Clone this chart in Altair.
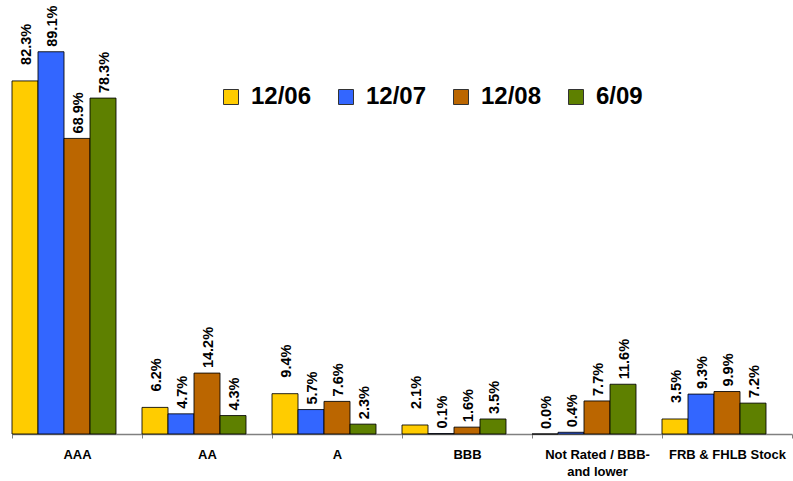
import altair as alt
import pandas as pd

# Share of holdings by credit rating, four reporting dates
categories = ["AAA", "AA", "A", "BBB", "Not Rated / BBB- and lower", "FRB & FHLB Stock"]
series = ["12/06", "12/07", "12/08", "6/09"]
colors = ["#FFCC00", "#3366FF", "#BB6600", "#5E8000"]

v_1206 = [82.3, 6.2, 9.4, 2.1, 0.0, 3.5]
v_1207 = [89.1, 4.7, 5.7, 0.1, 0.4, 9.3]
v_1208 = [68.9, 14.2, 7.6, 1.6, 7.7, 9.9]
v_0609 = [78.3, 4.3, 2.3, 3.5, 11.6, 7.2]

rows = []
for s, vals in zip(series, [v_1206, v_1207, v_1208, v_0609]):
    for c, v in zip(categories, vals):
        rows.append({"category": c, "series": s, "value": v})
df = pd.DataFrame(rows)

FONT = "Liberation Sans"

x_enc = alt.X(
    "category:N",
    sort=categories,
    scale=alt.Scale(paddingInner=0, paddingOuter=0),
    axis=alt.Axis(
        title=None,
        labelAngle=0,
        labelFont=FONT,
        labelFontSize=13,
        labelFontWeight="bold",
        labelColor="black",
        labelPadding=10,
        labelLineHeight=17,
        labelBaseline="top",
        labelExpr="datum.label == 'Not Rated / BBB- and lower' ? ['Not Rated / BBB-', 'and lower'] : datum.label",
        tickBand="extent",
        tickSize=4,
        tickColor="#808080",
        domainColor="#808080",
        domainWidth=1.5,
        labelLimit=300,
    ),
)
xo_enc = alt.XOffset(
    "series:N",
    sort=series,
    scale=alt.Scale(paddingInner=0, paddingOuter=0.5, align=0),
)
y_enc = alt.Y("value:Q", scale=alt.Scale(domain=[0, 100], nice=False), axis=None)

base = alt.Chart(df).encode(x=x_enc, xOffset=xo_enc, y=y_enc)

bars = base.mark_bar(stroke="black", strokeWidth=1, strokeOpacity=0.85).encode(
    color=alt.Color(
        "series:N",
        sort=series,
        scale=alt.Scale(domain=series, range=colors),
        legend=alt.Legend(
            title=None,
            orient="none",
            direction="horizontal",
            legendX=207,
            legendY=80,
            padding=0,
            symbolType="square",
            symbolSize=225,
            symbolStrokeColor="#333333",
            symbolStrokeWidth=1,
            symbolOpacity=1,
            labelFont=FONT,
            labelFontSize=24,
            labelFontWeight="bold",
            labelColor="black",
            labelOffset=8,
            columnPadding=22,
            labelLimit=200,
        ),
    )
)

label_common = dict(
    angle=270,
    align="left",
    baseline="middle",
    font=FONT,
    fontSize=14.5,
    fontWeight="bold",
    color="black",
    dy=2,
)

labels_first = (
    base.transform_filter("datum.series == '12/06' && datum.value > 0")
    .transform_calculate(txt="format(datum.value, '.1f') + '%'")
    .mark_text(dx=16, **label_common)
    .encode(text="txt:N")
)
labels_rest = (
    base.transform_filter("!(datum.series == '12/06' && datum.value > 0)")
    .transform_calculate(txt="format(datum.value, '.1f') + '%'")
    .mark_text(dx=5, **label_common)
    .encode(text="txt:N")
)

chart = (
    alt.layer(bars, labels_first, labels_rest)
    .properties(
        width=780,
        height=429,
        autosize=alt.AutoSizeParams(type="none"),
        padding={"left": 12, "top": 5, "right": 1, "bottom": 47},
        background="white",
    )
    .configure_view(strokeWidth=0)
)

chart.save("out.html", embed_options={"renderer": "svg", "actions": False})
